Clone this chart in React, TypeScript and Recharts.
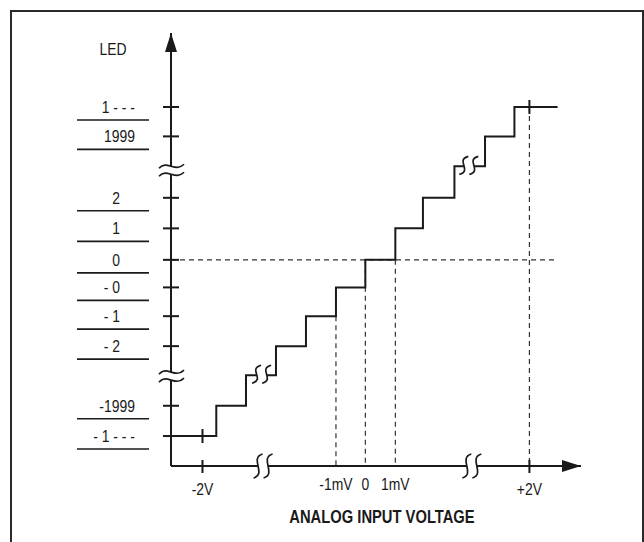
import React from 'react';
import { ComposedChart, Line, XAxis, YAxis, ReferenceLine } from 'recharts';

const FONT = "'Liberation Sans', Arial, Helvetica, sans-serif";
const INK = '#1a1a1a';
const SQUEEZE = 0.82;

// Compressed input-voltage axis (one unit = one LSB step; breaks omit long runs)
const riserX = [0, 1.51, 2.5, 3.5, 4.5, 5.5, 6.48, 7.48, 8.4, 9.45, 10.47, 11.45, 12.89];
// LED code level reached at each riser (bottom over-range code = 0)
const codeLevel = [0, 1.01, 2.03, 3, 4, 4.96, 5.88, 6.93, 7.95, 9, 10, 10.98, 10.98];

const yTickLevels = [0, 1.01, 3, 4, 4.96, 5.88, 6.93, 7.95, 10, 10.98];
const yTickLabels = ['- 1 - - -', '-1999', '- 2', '- 1', '- 0', '0', '1', '2', '1999', '1 - - -'];
const yBreakLevels = [2.0, 8.87];

const xTickPos = [1.05, 5.5, 6.48, 7.48, 11.95];
const xTickLabels = ['-2V', '-1mV', '0', '1mV', '+2V'];
const xMarkedTicks = ['-2V', '+2V'];
const xBreakPos = [3.07, 10.03];

const stepBreaks = [{ x: 3.02, y: 2.03 }, { x: 9.93, y: 9 }];
const stepMarks = [{ x: 1.05, y: 0 }, { x: 11.95, y: 10.98 }];

const zeroLevel = 5.88;
const zeroLineEnd = 12.89;
const dropX = [5.5, 6.48, 7.48, 11.95];
const dropFrom = [4, 5.88, 5.88, 10.98];

const xMin = 0;
const xMax = 13.67;
const yMin = -1;
const yMax = 13.45;

const xTitle = 'ANALOG INPUT VOLTAGE';
const yTitle = 'LED';

const stepData = riserX.map((x, i) => ({ x, y: codeLevel[i] }));

function CText({ x, y, anchor, size, weight, children }: any) {
  return (
    <text
      transform={`translate(${x} ${y}) scale(${SQUEEZE} 1)`}
      x={0}
      y={0}
      textAnchor={anchor}
      fontFamily={FONT}
      fontSize={size}
      fontWeight={weight || 'normal'}
      fill={INK}
      style={{ whiteSpace: 'pre' }}
    >
      {children}
    </text>
  );
}

function sCurve(cx: number, cy: number, h: number) {
  const p0 = [cx + 4.5, cy - h];
  const p1 = [cx - 9, cy - h + 4];
  const p2 = [cx + 9, cy + h - 4];
  const p3 = [cx - 4.5, cy + h];
  return [p0, p1, p2, p3];
}

function DoubleS({ cx, cy, h }: { cx: number; cy: number; h: number }) {
  const a = sCurve(cx - 5, cy, h);
  const b = sCurve(cx + 5, cy, h);
  const f = (p: number[]) => `${p[0]} ${p[1]}`;
  const fill = `M ${f(a[0])} C ${f(a[1])}, ${f(a[2])}, ${f(a[3])} L ${f(b[3])} C ${f(b[2])}, ${f(b[1])}, ${f(b[0])} Z`;
  const da = `M ${f(a[0])} C ${f(a[1])}, ${f(a[2])}, ${f(a[3])}`;
  const db = `M ${f(b[0])} C ${f(b[1])}, ${f(b[2])}, ${f(b[3])}`;
  return (
    <g>
      <path d={fill} fill="#fff" stroke="none" />
      <path d={da} fill="none" stroke={INK} strokeWidth={1.7} />
      <path d={db} fill="none" stroke={INK} strokeWidth={1.7} />
    </g>
  );
}

function Wave({ cx, cy }: { cx: number; cy: number }) {
  const w = (y0: number) => [[cx - 12, y0 + 2], [cx - 4, y0 - 7], [cx + 4, y0 + 7], [cx + 13, y0 - 2]];
  const a = w(cy - 4);
  const b = w(cy + 4);
  const f = (p: number[]) => `${p[0]} ${p[1]}`;
  const fill = `M ${f(a[0])} C ${f(a[1])}, ${f(a[2])}, ${f(a[3])} L ${f(b[3])} C ${f(b[2])}, ${f(b[1])}, ${f(b[0])} Z`;
  return (
    <g>
      <path d={fill} fill="#fff" stroke="none" />
      <path d={`M ${f(a[0])} C ${f(a[1])}, ${f(a[2])}, ${f(a[3])}`} fill="none" stroke={INK} strokeWidth={1.7} />
      <path d={`M ${f(b[0])} C ${f(b[1])}, ${f(b[2])}, ${f(b[3])}`} fill="none" stroke={INK} strokeWidth={1.7} />
    </g>
  );
}

const YTick = (props: any) => {
  const { x, y, payload } = props;
  const v = payload.value;
  if (v === yMax) {
    return <polygon points={`${x},${y} ${x - 6},${y + 19} ${x + 6},${y + 19}`} fill={INK} />;
  }
  if (yBreakLevels.includes(v)) return <Wave cx={x} cy={y} />;
  const i = yTickLevels.indexOf(v);
  const label = yTickLabels[i] ?? '';
  const long = label.replace(/ /g, '').length > 2;
  return (
    <g>
      <line x1={x - 8} x2={x + 8} y1={y} y2={y} stroke={INK} strokeWidth={2} />
      <CText x={long ? x - 36 : x - 51} y={y + 6} anchor="end" size={17}>
        {label}
      </CText>
      <line x1={x - 94} x2={x - 22} y1={y + 13} y2={y + 13} stroke={INK} strokeWidth={1.6} />
    </g>
  );
};

const XTick = (props: any) => {
  const { x, y, payload } = props;
  const v = payload.value;
  if (v === xMax) {
    return <polygon points={`${x},${y} ${x - 19},${y - 6} ${x - 19},${y + 6}`} fill={INK} />;
  }
  if (xBreakPos.includes(v)) return <DoubleS cx={x} cy={y} h={12} />;
  const label = xTickLabels[xTickPos.indexOf(v)] ?? '';
  const marked = xMarkedTicks.includes(label);
  return (
    <g>
      {marked && <line x1={x} x2={x} y1={y - 6} y2={y + 7} stroke={INK} strokeWidth={2} />}
      <CText x={x} y={marked ? y + 29 : y + 24} anchor="middle" size={17}>
        {label}
      </CText>
    </g>
  );
};

const XTitle = (props: any) => {
  const vb = props.viewBox || {};
  return (
    <CText x={vb.x + vb.width / 2 + 6} y={vb.y + 57} anchor="middle" size={18} weight="bold">
      {xTitle}
    </CText>
  );
};

const YTitle = (props: any) => {
  const vb = props.viewBox || {};
  return (
    <CText x={vb.x + vb.width - 58} y={vb.y + 22} anchor="middle" size={17}>
      {yTitle}
    </CText>
  );
};

const StepBreakDot = (props: any) => {
  const { cx, cy, index } = props;
  if (cx == null || cy == null) return <g key={index} />;
  return <g key={index}><DoubleS cx={cx} cy={cy - 1} h={9} /></g>;
};

const StepMarkDot = (props: any) => {
  const { cx, cy, index } = props;
  if (cx == null || cy == null) return <g key={index} />;
  return <line key={index} x1={cx} x2={cx} y1={cy - 7} y2={cy + 7} stroke={INK} strokeWidth={2} />;
};

export default function App() {
  return (
    <div style={{ position: 'absolute', left: 0, top: 0, width: 644, height: 542, overflow: 'hidden', background: '#fff' }}>
      <div
        style={{
          position: 'absolute',
          left: 10,
          top: 10,
          width: 630,
          height: 560,
          border: '2px solid #2a2a2a',
          boxSizing: 'content-box',
        }}
      />
      <div style={{ position: 'absolute', left: 0, top: 0 }}>
        <ComposedChart width={644} height={542} data={stepData} margin={{ top: 33, right: 63, bottom: 0, left: 0 }}>
          <XAxis
            dataKey="x"
            type="number"
            domain={[xMin, xMax]}
            ticks={[...xTickPos, ...xBreakPos, xMax].sort((a, b) => a - b)}
            interval={0}
            allowDataOverflow
            tick={XTick}
            tickLine={false}
            tickSize={0}
            tickMargin={0}
            height={76}
            axisLine={{ stroke: INK, strokeWidth: 2 }}
            label={{ value: xTitle, content: XTitle }}
          />
          <YAxis
            type="number"
            domain={[yMin, yMax]}
            ticks={[...yTickLevels, ...yBreakLevels, yMax].sort((a, b) => a - b)}
            interval={0}
            allowDataOverflow
            tick={YTick}
            tickLine={false}
            tickSize={0}
            tickMargin={0}
            width={171}
            axisLine={{ stroke: INK, strokeWidth: 2 }}
            label={{ value: yTitle, content: YTitle }}
          />
          <ReferenceLine
            segment={[{ x: xMin, y: zeroLevel }, { x: zeroLineEnd, y: zeroLevel }]}
            stroke="#333"
            strokeWidth={1.2}
            strokeDasharray="5 4"
          />
          {dropX.map((x, i) => (
            <ReferenceLine
              key={i}
              segment={[{ x, y: dropFrom[i] }, { x, y: yMin }]}
              stroke="#333"
              strokeWidth={1.2}
              strokeDasharray="5 4"
            />
          ))}
          <Line type="stepAfter" dataKey="y" stroke={INK} strokeWidth={2} dot={false} isAnimationActive={false} />
          <Line data={stepBreaks} dataKey="y" stroke="none" dot={StepBreakDot} isAnimationActive={false} />
          <Line data={stepMarks} dataKey="y" stroke="none" dot={StepMarkDot} isAnimationActive={false} />
        </ComposedChart>
      </div>
    </div>
  );
}
